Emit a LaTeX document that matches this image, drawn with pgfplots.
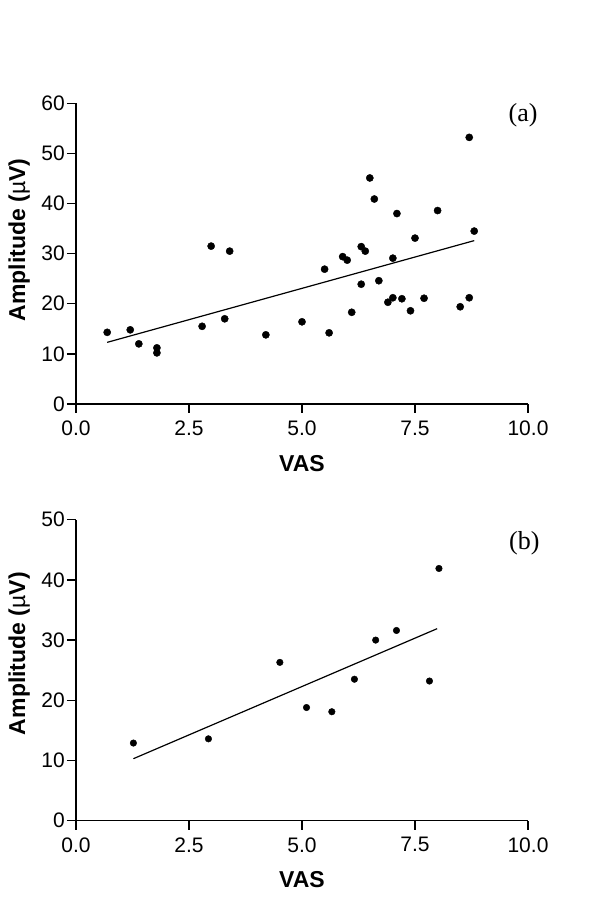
\documentclass[border=0pt]{standalone}
\usepackage{fontspec}
\setmainfont{Liberation Sans}
\newfontfamily\seriffont{Liberation Serif}
\usepackage{pgfplots}
\pgfplotsset{compat=1.18}

% common look of both panels
\pgfplotsset{vasaxis/.style={
    scale only axis, width=452pt,
    xmin=0, xmax=10, ymin=0, enlargelimits=false,
    axis x line*=bottom, axis y line*=left,
    axis line style={line width=1.4pt, black},
    tick style={line width=1.4pt, black},
    tick align=outside, major tick length=9pt,
    xtick={0,2.5,5,7.5,10},
    ytick distance=10,
    /pgf/number format/assume math mode=true,
    tick label style={font=\fontsize{21}{24}\selectfont},
    x tick label style={/pgf/number format/fixed, /pgf/number format/fixed zerofill, /pgf/number format/precision=1, inner sep=7.5pt},
    y tick label style={inner sep=2pt},
    xlabel={VAS},
    ylabel={Amplitude (\textmd{µ}V)},
    label style={font=\fontsize{23}{26}\selectfont\bfseries, inner sep=0pt},
    xlabel style={at={(axis description cs:0.5,0)}, anchor=north, yshift=-51pt},
    clip=false,
}}

\begin{document}
\begin{tikzpicture}
\path (0,0) rectangle (600pt,907pt);

% (a)
\begin{axis}[vasaxis, at={(76pt,503pt)}, anchor=south west,
    height=300.7pt, ymax=60,
    ylabel style={at={(axis description cs:0,0.545)}, anchor=south, yshift=46pt}]
\addplot[only marks, mark=*, mark size=3.6pt, black] coordinates {
 (0.69,14.3)(1.20,14.8)(1.39,12.0)(1.79,11.2)(1.79,10.2)(2.79,15.5)(2.99,31.5)
 (3.29,17.0)(3.40,30.5)(4.20,13.8)(5.00,16.4)(5.50,26.9)(5.60,14.2)(5.90,29.4)
 (6.00,28.7)(6.10,18.3)(6.31,31.4)(6.40,30.5)(6.31,23.9)(6.50,45.1)(6.60,40.9)
 (6.70,24.6)(6.90,20.3)(7.01,21.2)(7.01,29.1)(7.10,38.0)(7.21,21.0)(7.40,18.6)
 (7.50,33.1)(7.70,21.1)(8.00,38.6)(8.50,19.4)(8.70,53.2)(8.70,21.2)(8.81,34.5)};
\addplot[black, line width=1.2pt, no marks] coordinates {(0.69,12.3)(8.81,32.6)};
\node[font=\seriffont\fontsize{26}{28}\selectfont] at (axis cs:9.89,57.7) {(a)};
\end{axis}

% (b)
\begin{axis}[vasaxis, at={(76pt,86.3pt)}, anchor=south west,
    height=301pt, ymax=50,
    ylabel style={at={(axis description cs:0,0.555)}, anchor=south, yshift=46pt}]
\addplot[only marks, mark=*, mark size=3.3pt, black] coordinates {
 (1.27,12.9)(2.93,13.6)(4.51,26.3)(5.10,18.8)(5.66,18.1)
 (6.16,23.5)(6.63,30.0)(7.09,31.6)(7.82,23.2)(8.03,41.9)};
\addplot[black, line width=1.2pt, no marks] coordinates {(1.27,10.3)(7.99,31.9)};
\node[font=\seriffont\fontsize{26}{28}\selectfont] at (axis cs:9.92,46.1) {(b)};
\end{axis}
\end{tikzpicture}
\end{document}
